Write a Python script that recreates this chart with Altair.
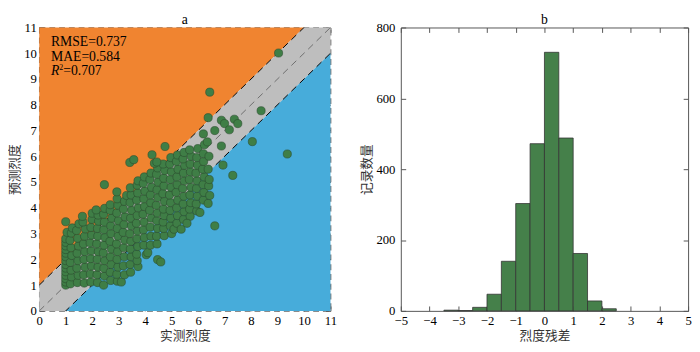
import altair as alt
import pandas as pd

SERIF = "Liberation Serif, Times New Roman, Noto Sans CJK SC"

# ---------------- panel a: observed vs predicted intensity ----------------
obs_x = [
    1.0, 1.0, 1.0, 1.0, 1.0, 1.0, 1.0, 1.0, 1.0, 1.0, 1.0, 1.0, 1.0, 1.0, 1.05, 1.0,
    1.18, 1.22, 1.2, 1.17, 1.23, 1.2, 1.16, 1.21, 1.25,
    1.44, 1.47, 1.42, 1.46, 1.43, 1.48, 1.45, 1.41, 1.5,
    1.7, 1.68, 1.73, 1.69, 1.72, 1.67, 1.71, 1.74, 1.65, 1.63,
    1.95, 1.93, 1.97, 1.94, 1.96, 1.92, 1.98, 1.95, 1.99, 2.0,
    2.2, 2.18, 2.22, 2.19, 2.23, 2.17, 2.21, 2.2, 2.24, 2.22, 2.15,
    2.43, 2.46, 2.44, 2.47, 2.42, 2.45, 2.48, 2.44, 2.46, 2.43, 2.47, 2.46,
    2.7, 2.68, 2.72, 2.69, 2.73, 2.67, 2.71, 2.7, 2.74, 2.68, 2.68,
    2.95, 2.93, 2.97, 2.94, 2.96, 2.92, 2.98, 2.95, 2.99, 2.93, 2.97, 2.94, 2.93,
    3.1, 3.22, 3.18, 3.21, 3.19, 3.23, 3.17, 3.2, 3.24, 3.18, 3.22, 3.3,
    3.45, 3.43, 3.47, 3.44, 3.46, 3.42, 3.48, 3.45, 3.49, 3.43, 3.47, 3.44,
    3.73, 3.7, 3.68, 3.72, 3.69, 3.71, 3.67, 3.7, 3.74, 3.68, 3.72, 3.7, 3.73,
    4.04, 3.95, 3.97, 3.94, 3.96, 3.92, 3.98, 3.95, 3.99, 3.93, 3.97,
    4.1, 4.2, 4.22, 4.19, 4.23, 4.17, 4.21, 4.2, 4.24, 4.18, 4.22,
    4.47, 4.59, 4.45, 4.43, 4.47, 4.44, 4.46, 4.42, 4.48, 4.45, 4.49, 4.43, 4.47,
    4.72, 4.7, 4.68, 4.72, 4.69, 4.73, 4.67, 4.71, 4.7, 4.74, 4.68,
    5.0, 4.95, 4.97, 4.94, 4.96, 4.92, 4.98, 4.95, 4.99, 4.93, 4.97,
    5.09, 5.2, 5.22, 5.19, 5.23, 5.17, 5.21, 5.2, 5.24, 5.18, 5.22,
    5.36, 5.45, 5.47, 5.44, 5.46, 5.42, 5.48, 5.45, 5.49, 5.43, 5.47,
    5.7, 5.68, 5.72, 5.69, 5.73, 5.67, 5.71, 5.7, 5.74, 5.68, 5.58,
    5.95, 5.93, 5.97, 5.94, 5.96, 5.92, 5.98, 5.95, 5.99,
    6.07, 6.2, 6.22, 6.19, 6.23, 6.17, 6.21, 6.2, 6.24, 6.2,
    6.38, 6.44, 6.4, 6.42, 6.38, 6.41, 6.35,
    6.63, 3.42, 3.57, 4.26, 4.75, 4.35, 4.44, 6.44, 6.38, 6.63, 6.88, 7.0,
    7.18, 7.37, 7.5, 6.88, 6.94, 7.31, 8.05, 8.38, 9.37, 9.04,
]
pred_y = [
    1.0, 1.12, 1.25, 1.38, 1.52, 1.66, 1.8, 1.95, 2.1, 2.24, 2.38, 2.52, 2.66, 2.8, 3.05, 3.46,
    1.05, 1.32, 1.58, 1.88, 2.15, 2.45, 2.74, 3.02, 3.22,
    1.1, 1.38, 1.66, 1.95, 2.24, 2.52, 2.82, 3.12, 3.38,
    1.08, 1.4, 1.7, 2.0, 2.3, 2.6, 2.9, 3.18, 3.45, 3.67,
    1.12, 1.43, 1.74, 2.03, 2.33, 2.64, 2.94, 3.24, 3.55, 3.79,
    1.1, 1.4, 1.7, 2.0, 2.3, 2.6, 2.9, 3.2, 3.48, 3.72, 3.92,
    1.0, 1.35, 1.65, 1.95, 2.25, 2.55, 2.85, 3.15, 3.45, 3.75, 3.98, 4.9,
    1.18, 1.5, 1.8, 2.1, 2.4, 2.7, 3.0, 3.3, 3.6, 3.9, 4.12,
    1.15, 1.42, 1.7, 2.0, 2.3, 2.6, 2.9, 3.2, 3.5, 3.8, 4.1, 4.35, 4.62,
    1.12, 1.4, 1.75, 2.1, 2.45, 2.75, 3.05, 3.35, 3.65, 3.95, 4.25, 4.48,
    1.5, 1.8, 2.1, 2.4, 2.7, 3.0, 3.3, 3.6, 3.9, 4.2, 4.5, 4.78,
    1.72, 1.95, 2.2, 2.5, 2.8, 3.1, 3.4, 3.7, 4.0, 4.3, 4.58, 4.88, 5.05,
    2.18, 2.55, 2.85, 3.15, 3.45, 3.75, 4.05, 4.35, 4.65, 4.95, 5.2,
    2.26, 2.55, 2.9, 3.25, 3.6, 3.9, 4.2, 4.5, 4.8, 5.1, 5.35,
    1.99, 1.9, 2.6, 2.9, 3.2, 3.5, 3.8, 4.1, 4.4, 4.7, 5.0, 5.3, 5.55,
    2.92, 3.2, 3.45, 3.7, 3.95, 4.25, 4.55, 4.85, 5.15, 5.45, 5.7,
    3.0, 3.3, 3.6, 3.9, 4.2, 4.5, 4.8, 5.1, 5.4, 5.7, 5.95,
    3.17, 3.4, 3.7, 4.0, 4.3, 4.6, 4.9, 5.2, 5.5, 5.8, 6.05,
    3.17, 3.55, 3.85, 4.15, 4.45, 4.75, 5.05, 5.35, 5.65, 5.9, 6.15,
    3.67, 3.95, 4.2, 4.5, 4.8, 5.1, 5.4, 5.7, 6.0, 6.25, 3.4,
    3.88, 4.15, 4.45, 4.75, 5.05, 5.35, 5.65, 5.95, 6.3,
    3.82, 4.3, 4.6, 4.9, 5.2, 5.5, 5.8, 6.1, 6.45, 6.87,
    4.17, 4.48, 4.85, 5.1, 5.5, 6.0, 6.56,
    3.3, 5.76, 5.87, 6.06, 6.38, 5.73, 5.78, 8.49, 7.5, 7.0, 7.4, 7.27,
    7.03, 7.44, 7.27, 6.4, 5.66, 5.26, 6.57, 7.77, 6.09, 10.01,
]

axis_max = 11
band_half_width = 1
region_x = [0, 1, 10, 11]          # breakpoints of the ±1 band polygons
line_x = [0, 11]
tick_vals = list(range(0, 12))
rmse_text = "RMSE=0.737"
mae_text = "MAE=0.584"
r2_value_text = "=0.707"
panel_titles = ["a", "b"]

# ---------------- panel b: residual histogram ----------------
bin_edges = [-3.5, -3.0, -2.5, -2.0, -1.5, -1.0, -0.5, 0.0, 0.5, 1.0, 1.5, 2.0, 2.5]
counts = [2, 1, 10, 47, 140, 303, 472, 730, 488, 162, 28, 6]
hist_x_ticks = list(range(-5, 6))
hist_y_ticks = [0, 200, 400, 600, 800]

ORANGE = "#F08430"
BLUE = "#47ACDA"
GRAY = "#BEBEBE"
GREEN = "#3F7E46"
HIST_GREEN = "#45804A"
TICK = "#555555"

W_LEFT, H = 298, 290
W_RIGHT = 294

pts = pd.DataFrame({"obs": obs_x, "pred": pred_y})
reg = pd.DataFrame({"x": region_x})
lin = pd.DataFrame({"x": line_x})
hist = pd.DataFrame({"lo": bin_edges[:-1], "hi": bin_edges[1:], "n": counts})

xs = alt.Scale(domain=[0, axis_max], nice=False)
ys = alt.Scale(domain=[0, axis_max], nice=False)


def main_axis(title, values, title_pad=2, label_pad=3):
    return alt.Axis(title=title, values=values, offset=-5, tickSize=5, tickColor=TICK,
                    domain=False, labelPadding=label_pad, titlePadding=title_pad, grid=False,
                    labelFlush=False, labelOverlap=False, minExtent=0)


def mirror_axis(orient, values):
    return alt.Axis(orient=orient, title=None, values=values, labels=False, offset=-5,
                    tickSize=5, tickColor=TICK, domain=False, grid=False,
                    minExtent=0, maxExtent=0)


def label(text, x, y, size=14, style="normal", align="left"):
    return alt.Chart(pd.DataFrame({"t": [text]})).mark_text(
        align=align, baseline="middle", font=SERIF, fontSize=size,
        fontStyle=style, color="black"
    ).encode(x=alt.value(x), y=alt.value(y), text="t:N")


base_reg = alt.Chart(reg).transform_calculate(
    upper=f"min(datum.x + {band_half_width}, {axis_max})",
    lower=f"max(datum.x - {band_half_width}, 0)",
    top=f"{axis_max}",
    bottom="0",
)

orange = base_reg.mark_area(color=ORANGE, opacity=1).encode(
    x=alt.X("x:Q", scale=xs, axis=main_axis("实测烈度", tick_vals, label_pad=4)),
    y=alt.Y("upper:Q", scale=ys, axis=main_axis("预测烈度", tick_vals)),
    y2="top:Q",
)
gray = base_reg.mark_area(color=GRAY, opacity=1).encode(
    x=alt.X("x:Q", scale=xs, axis=mirror_axis("top", tick_vals)),
    y=alt.Y("lower:Q", scale=ys, axis=mirror_axis("right", tick_vals)),
    y2="upper:Q",
)
blue = base_reg.mark_area(color=BLUE, opacity=1).encode(
    x=alt.X("x:Q", scale=xs, axis=None),
    y=alt.Y("bottom:Q", scale=ys, axis=None),
    y2="lower:Q",
)


def diag(offset, color):
    return alt.Chart(lin).transform_calculate(y=f"datum.x + ({offset})").mark_line(
        color=color, strokeDash=[7, 5], strokeWidth=1, clip=True
    ).encode(x=alt.X("x:Q", scale=xs, axis=None), y=alt.Y("y:Q", scale=ys, axis=None))


line_up = diag(band_half_width, "black")
line_mid = diag(0, "#6E6E6E")
line_lo = diag(-band_half_width, "black")

points = alt.Chart(pts).mark_point(
    filled=True, size=70, color=GREEN, stroke="#2B4D2F", strokeWidth=0.6, opacity=1
).encode(
    x=alt.X("obs:Q", scale=xs, axis=None),
    y=alt.Y("pred:Q", scale=ys, axis=None),
)

stats = [
    label(rmse_text, 12, 15),
    label(mae_text, 12, 30),
    label("R", 12, 45, style="italic"),
    label("2", 20.5, 41, size=8),
    label(r2_value_text, 24.5, 45),
]
title_a = label(panel_titles[0], W_LEFT / 2, -8, size=14, align="center")

left = alt.layer(
    orange, gray, blue, line_mid, line_up, line_lo, points, *stats, title_a
).resolve_axis(x="independent", y="independent").properties(
    width=W_LEFT, height=H,
    view=alt.ViewBackground(stroke="#666666", strokeDash=[6, 4], strokeWidth=1.2),
)

hx = alt.Scale(domain=[-5, 5], nice=False)
hy = alt.Scale(domain=[0, 800], nice=False)

hist_base = alt.Chart(hist).transform_calculate(zero="0")
bars = hist_base.mark_rect(color=HIST_GREEN, stroke="#333333", strokeWidth=0.8).encode(
    x=alt.X("lo:Q", scale=hx, axis=main_axis("烈度残差", hist_x_ticks, label_pad=4)),
    x2="hi:Q",
    y=alt.Y("n:Q", scale=hy, axis=main_axis("记录数量", hist_y_ticks, label_pad=6)),
    y2="zero:Q",
)
bars_mirror = hist_base.mark_rect(opacity=0).encode(
    x=alt.X("lo:Q", scale=hx, axis=mirror_axis("top", hist_x_ticks)),
    x2="hi:Q",
    y=alt.Y("n:Q", scale=hy, axis=mirror_axis("right", hist_y_ticks)),
    y2="zero:Q",
)
title_b = label(panel_titles[1], W_RIGHT / 2, -8, size=14, align="center")

right = alt.layer(bars, bars_mirror, title_b).resolve_axis(
    x="independent", y="independent"
).properties(
    width=W_RIGHT, height=H,
    view=alt.ViewBackground(stroke="#555555", strokeWidth=1),
)

chart = alt.hconcat(left, right, spacing=24).configure(
    padding={"left": 0, "top": 0, "right": 0, "bottom": 0},
).configure_axis(
    labelFont=SERIF, labelFontSize=13, labelColor="black",
    titleFont=SERIF, titleFontSize=13, titleFontWeight="normal", titleColor="#333333",
)

chart.save("out.html", embed_options={"renderer": "svg", "actions": False})
